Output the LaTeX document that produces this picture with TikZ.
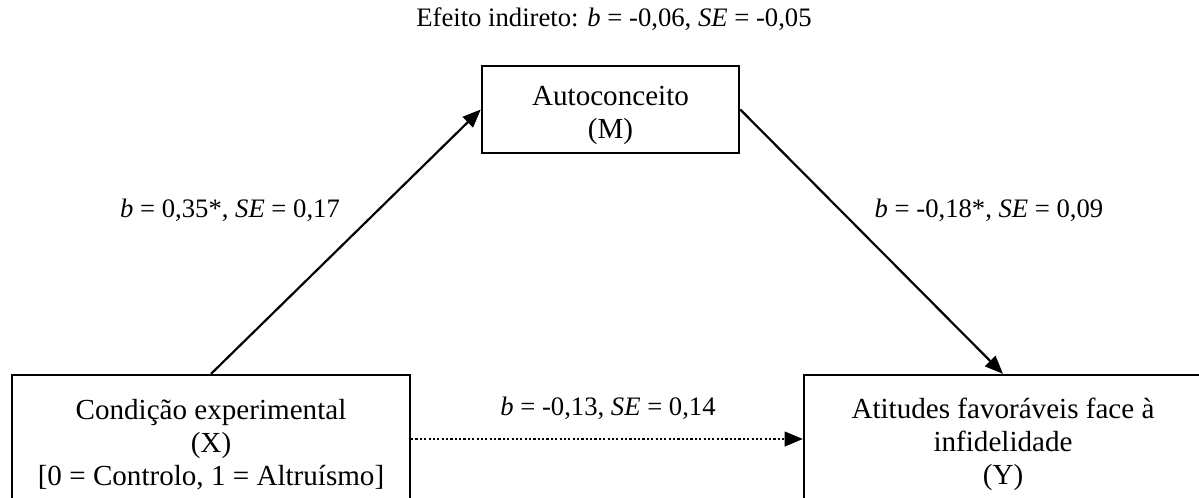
\documentclass[tikz,border=0pt]{standalone}
\usepackage{fontspec}
\setmainfont{Liberation Serif}
\usetikzlibrary{arrows.meta}
\newcommand{\topgap}{\rule{0pt}{13pt}}
\begin{document}
\begin{tikzpicture}[x=0.0145cm, y=-0.0145cm,
	main/.style = {draw, line width=0.9pt, align=center, inner sep=0pt, font=\fontsize{12}{13.6}\selectfont},
	lab/.style = {anchor=base, inner sep=0pt, font=\fontsize{11}{13}\selectfont},
	link/.style = {line width=0.9pt, -{Triangle[length=7.5pt, width=6pt]}}]
				\useasboundingbox (0,0) rectangle (1199,497);
				\node[main, minimum width=3.73cm, minimum height=1.26cm] (M) at (610.5,109.5) {\topgap Autoconceito\\(M)};
				\node[main, minimum width=5.77cm, minimum height=1.856cm] (X) at (211,439) {\topgap Condição experimental\\(X)\\{[0 = Controlo, 1 = Altruísmo]}};
				\node[main, minimum width=5.77cm, minimum height=1.856cm] (Y) at (1003,439) {\topgap Atitudes favoráveis face à\\infidelidade\\(Y)};
				\node[lab] (ind) at (614,26) {Efeito indireto: \textit{b} = -0,06, \textit{SE} = -0,05};
				\node[lab] (xm) at (230,217) {\textit{b} = 0,35*, \textit{SE} = 0,17};
				\node[lab] (my) at (989,217) {\textit{b} = -0,18*, \textit{SE} = 0,09};
				\node[lab] (xy) at (608,415) {\textit{b} = -0,13, \textit{SE} = 0,14};
				\draw[link] (X.north) -- (M.west);
				\draw[link] (M.east) -- (Y.north);
				\draw[link, dash pattern=on 0.9pt off 0.9pt] (X.east) -- (Y.west);
			\end{tikzpicture}
\end{document}
